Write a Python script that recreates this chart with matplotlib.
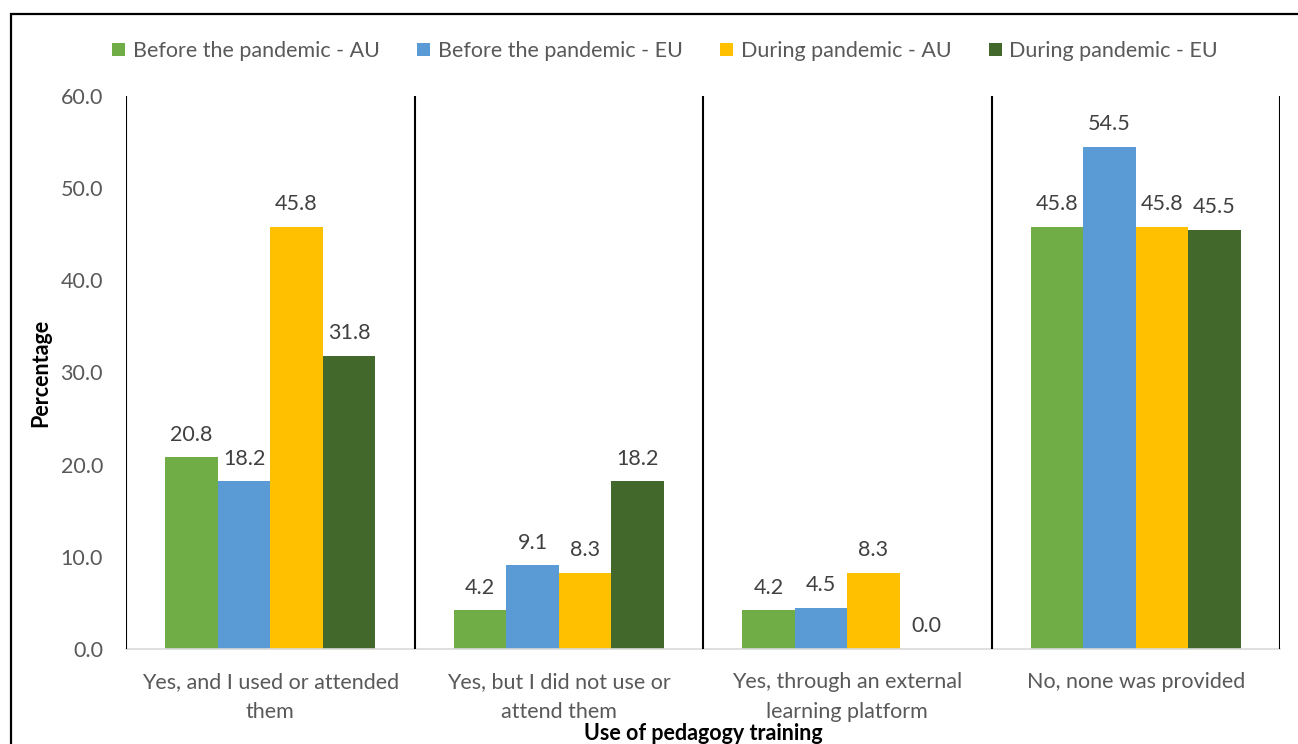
import numpy as np
import matplotlib.pyplot as plt
from matplotlib.patches import Rectangle

plt.rcParams['font.family'] = ['Lato', 'DejaVu Sans']

categories = ['Yes, and I used or attended\nthem',
              'Yes, but I did not use or\nattend them',
              'Yes, through an external\nlearning platform',
              'No, none was provided']
series_names = ['Before the pandemic - AU', 'Before the pandemic - EU',
                'During pandemic - AU', 'During pandemic - EU']
before_au = [20.8, 4.2, 4.2, 45.8]
before_eu = [18.2, 9.1, 4.5, 54.5]
during_au = [45.8, 8.3, 8.3, 45.8]
during_eu = [31.8, 18.2, 0.0, 45.5]
colors = ['#70AD47', '#5B9BD5', '#FFC000', '#43682B']

fs = 15.5

fig = plt.figure(figsize=(12.98, 7.44), dpi=100)
ax = fig.add_axes([126 / 1298, 1 - 649 / 744, (1280 - 126) / 1298, (649 - 96) / 744])

x = np.arange(len(categories))
width = 0.182
all_series = [before_au, before_eu, during_au, during_eu]
for i, (vals, name, c) in enumerate(zip(all_series, series_names, colors)):
    pos = x + (i - 1.5) * width
    bars = ax.bar(pos, vals, width, color=c, label=name, zorder=2)
    for b, v in zip(bars, vals):
        ax.annotate(f'{v:.1f}', (b.get_x() + b.get_width() / 2, v),
                    xytext=(0, 9), textcoords='offset points',
                    ha='center', va='bottom', fontsize=fs, color='#404040')

# separators between the category groups
for s in np.arange(-0.5, len(categories), 1.0):
    ax.axvline(s, color='black', lw=1.5, zorder=3)

ax.set_xlim(-0.5, len(categories) - 0.5)
ax.set_ylim(0, 60)
ax.set_yticks(np.arange(0, 61, 10))
ax.set_yticklabels([f'{t:.1f}' for t in np.arange(0, 61, 10)])
ax.set_xticks(x)
ax.set_xticklabels(categories, linespacing=1.6)
ax.tick_params(axis='both', length=0, labelsize=fs, colors='#595959')
ax.tick_params(axis='y', pad=16.5)
ax.tick_params(axis='x', pad=16.5)

for side in ['top', 'right', 'left']:
    ax.spines[side].set_visible(False)
ax.spines['bottom'].set_color('#D9D9D9')
ax.spines['bottom'].set_linewidth(1.2)

ax.set_ylabel('Percentage', fontsize=fs, fontweight='bold', labelpad=7)
ax.set_xlabel('Use of pedagogy training', fontsize=fs, fontweight='bold', labelpad=1)

fig.legend(loc='center', bbox_to_anchor=(665 / 1298, 1 - 51 / 744), ncol=4,
           frameon=False, fontsize=fs, handlelength=0.6, handleheight=0.6,
           handletextpad=0.35, columnspacing=1.75, labelcolor='#595959')

# frame around the chart
fig.patches.append(Rectangle((11 / 1298, -0.2), 1.2, 1.2 - 14 / 744,
                             transform=fig.transFigure, fill=False,
                             edgecolor='black', lw=1.6))

fig.savefig('out.png', dpi=100)
